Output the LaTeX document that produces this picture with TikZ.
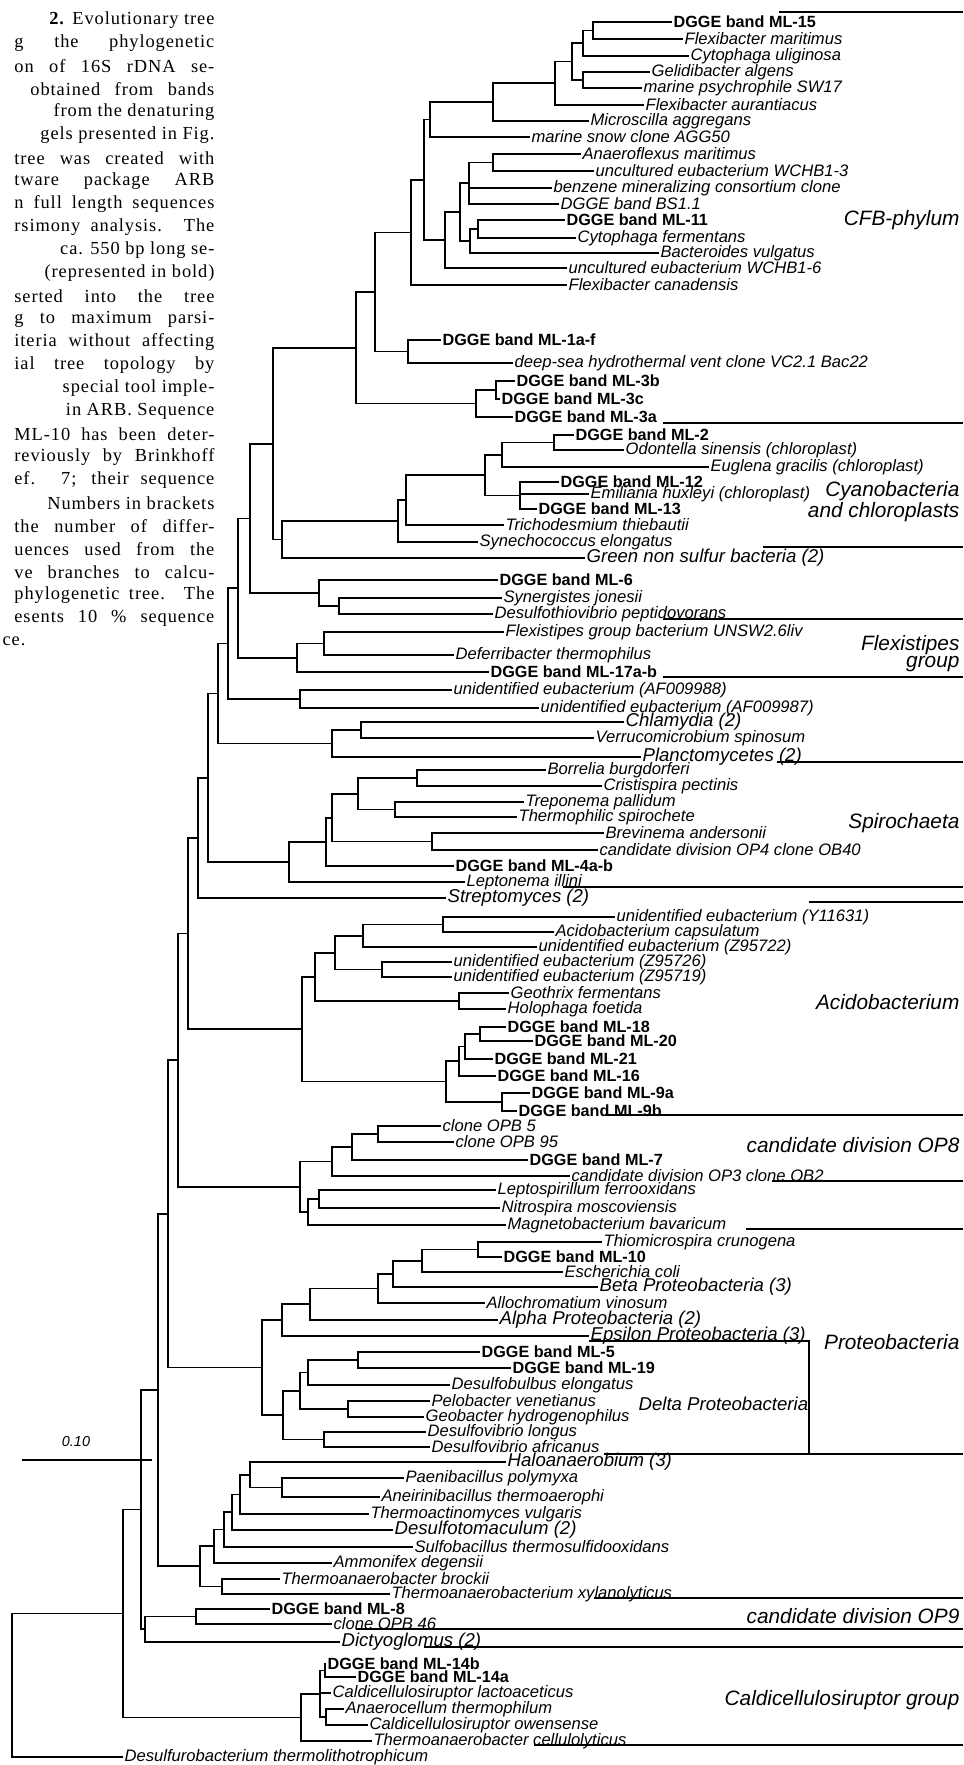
\documentclass[tikz,border=0pt]{standalone}
\usepackage{fontspec}
\setmainfont{Liberation Serif}
\newfontfamily\arialf{Liberation Sans}
\newfontfamily\captf[LetterSpace=5]{Liberation Serif}
\begin{document}
\begin{tikzpicture}[x=0.5pt,y=-0.5pt,line width=0.6pt,
  leaf/.style={anchor=west,inner xsep=0.5pt,inner ysep=0pt,font=\arialf\itshape\fontsize{8.3}{9}\selectfont},
  band/.style={leaf,font=\arialf\bfseries\fontsize{8.1}{9}\selectfont},
  coll/.style={leaf,font=\arialf\itshape\fontsize{9.3}{10}\selectfont},
  grp/.style={anchor=east,inner sep=0pt,font=\arialf\itshape\fontsize{10.4}{11}\selectfont},
  capt/.style={anchor=east,inner sep=0pt,font=\captf\fontsize{9.2}{10}\selectfont}]
\useasboundingbox (0,0) rectangle (963,1765);

% caption (cut at the left border)
\node[capt] (cap1) at (215,20) {\textbf{2.} Evolutionary tree};
\node[capt] (cap2) at (215,43) {\makebox[100pt][s]{g the phylogenetic}};
\node[capt] (cap3) at (215,66) {\makebox[100pt][s]{on of 16S rDNA se-}};
\node[capt] (cap4) at (215,89) {\makebox[92pt][s]{obtained from bands}};
\node[capt] (cap5) at (215,112) {from the denaturing};
\node[capt] (cap6) at (215,135) {gels presented in Fig.};
\node[capt] (cap7) at (215,158) {\makebox[100pt][s]{tree was created with}};
\node[capt] (cap8) at (215,181) {\makebox[100pt][s]{tware package ARB}};
\node[capt] (cap9) at (215,204) {\makebox[100pt][s]{n full length sequences}};
\node[capt] (cap10) at (215,227) {\makebox[100pt][s]{rsimony analysis. The}};
\node[capt] (cap11) at (215,250) {ca. 550 bp long se-};
\node[capt] (cap12) at (215,273) {(represented in bold)};
\node[capt] (cap13) at (215,296) {\makebox[100pt][s]{serted into the tree}};
\node[capt] (cap14) at (215,319) {\makebox[100pt][s]{g to maximum parsi-}};
\node[capt] (cap15) at (215,342) {\makebox[100pt][s]{iteria without affecting}};
\node[capt] (cap16) at (215,365) {\makebox[100pt][s]{ial tree topology by}};
\node[capt] (cap17) at (215,388) {special tool imple-};
\node[capt] (cap18) at (215,411) {in ARB. Sequence};
\node[capt] (cap19) at (215,434) {\makebox[100pt][s]{ML-10 has been deter-}};
\node[capt] (cap20) at (215,457) {\makebox[100pt][s]{reviously by Brinkhoff}};
\node[capt] (cap21) at (215,480) {\makebox[100pt][s]{ef. 7; their sequence}};
\node[capt] (cap22) at (215,503) {Numbers in brackets};
\node[capt] (cap23) at (215,526) {\makebox[100pt][s]{the number of differ-}};
\node[capt] (cap24) at (215,549) {\makebox[100pt][s]{uences used from the}};
\node[capt] (cap25) at (215,572) {\makebox[100pt][s]{ve branches to calcu-}};
\node[capt] (cap26) at (215,595) {\makebox[100pt][s]{phylogenetic tree. The}};
\node[capt] (cap27) at (215,618) {\makebox[100pt][s]{esents 10 \% sequence}};
\node[capt,anchor=west] (cap28) at (2,641) {ce.};

% CFB
\node[band] (l1) at (672,22) {DGGE band ML-15};
\node[leaf] (l2) at (683,39) {Flexibacter maritimus};
\node[leaf] (l3) at (689,56) {Cytophaga uliginosa};
\node[leaf] (l4) at (650,72) {Gelidibacter algens};
\node[leaf] (l5) at (642,88) {marine psychrophile SW17};
\node[leaf] (l6) at (644,105) {Flexibacter aurantiacus};
\node[leaf] (l7) at (589,121) {Microscilla aggregans};
\node[leaf] (l8) at (530,137) {marine snow clone AGG50};
\node[leaf] (l9) at (581,154) {Anaeroflexus maritimus};
\node[leaf] (l10) at (594,171) {uncultured eubacterium WCHB1-3};
\node[leaf] (l11) at (552,188) {benzene mineralizing consortium clone};
\node[leaf] (l12) at (559,204) {DGGE band BS1.1};
\node[band] (l13) at (565,220) {DGGE band ML-11};
\node[leaf] (l14) at (576,238) {Cytophaga fermentans};
\node[leaf] (l15) at (659,253) {Bacteroides vulgatus};
\node[leaf] (l16) at (567,268) {uncultured eubacterium WCHB1-6};
\node[leaf] (l17) at (567,285) {Flexibacter canadensis};
\node[band] (l18) at (441,340) {DGGE band ML-1a-f};
\node[leaf] (l19) at (513,363) {deep-sea hydrothermal vent clone VC2.1 Bac22};
\node[band] (l20) at (515,381) {DGGE band ML-3b};
\node[band] (l21) at (500,399) {DGGE band ML-3c};
\node[band] (l22) at (513,417) {DGGE band ML-3a};

\coordinate (a1) at (593,30.5);
\coordinate (a2) at (583,43);
\coordinate (a3) at (583,80);
\coordinate (a4) at (572,61.5);
\coordinate (a5) at (555,83);
\coordinate (a6) at (493,102);
\coordinate (a7) at (430,119.5);
\coordinate (b1) at (493,162.5);
\coordinate (b2) at (469,183);
\coordinate (b3) at (478,229);
\coordinate (b4) at (470,241);
\coordinate (b5) at (460,212);
\coordinate (b6) at (445,240);
\coordinate (c2) at (424,180);
\coordinate (c1) at (411,232.5);
\coordinate (m1) at (408,351.5);
\coordinate (g1) at (375,292);
\coordinate (m3) at (496,390);
\coordinate (m4) at (476,403.5);
\coordinate (f1) at (356,348);

\draw (a1) |- (l1) (a1) |- (l2) (a2) |- (a1) (a2) |- (l3)
      (a3) |- (l4) (a3) |- (l5) (a4) |- (a2) (a4) |- (a3)
      (a5) |- (a4) (a5) |- (l6) (a6) |- (a5) (a6) |- (l7)
      (a7) |- (a6) (a7) |- (l8);
\draw (b1) |- (l9) (b1) |- (l10) (b2) |- (b1) (b2) |- (l11) (b2) |- (l12)
      (b3) |- (l13) (b3) |- (l14) (b4) |- (b3) (b4) |- (l15)
      (b5) |- (b2) (b5) |- (b4) (b6) |- (b5) (b6) |- (l16)
      (c2) |- (a7) (c2) |- (b6) (c1) |- (c2) (c1) |- (l17);
\draw (m1) |- (l18) (m1) |- (l19) (g1) |- (c1) (g1) |- (m1)
      (m3) |- (l20) (m3) |- (l21) (m4) |- (m3) (m4) |- (l22)
      (f1) |- (g1) (f1) |- (m4);

% Cyanobacteria
\node[band] (l23) at (574,435) {DGGE band ML-2};
\node[leaf] (l24) at (624,450) {Odontella sinensis (chloroplast)};
\node[leaf] (l25) at (709,467) {Euglena gracilis (chloroplast)};
\node[band] (l26) at (559,482) {DGGE band ML-12};
\node[leaf] (l27) at (589,494) {Emiliania huxleyi (chloroplast)};
\node[band] (l28) at (537,509) {DGGE band ML-13};
\node[leaf] (l29) at (504,525) {Trichodesmium thiebautii};
\node[leaf] (l30) at (478,542) {Synechococcus elongatus};
\node[coll] (l31) at (585,558) {Green non sulfur bacteria (2)};
\coordinate (p1) at (554,442.5);
\coordinate (p2) at (502,455);
\coordinate (p4) at (520,495.5);
\coordinate (p3) at (485,475);
\coordinate (q1) at (406,500);
\coordinate (q2) at (398,521);
\coordinate (q3) at (282,539.5);
\draw (p1) |- (l23) (p1) |- (l24) (p2) |- (p1) (p2) |- (l25)
      (p4) |- (l26) (p4) |- (l27) (p4) |- (l28) (p3) |- (p2) (p3) |- (p4)
      (q1) |- (p3) (q1) |- (l29) (q2) |- (q1) (q2) |- (l30)
      (q3) |- (q2) (q3) |- (l31);

% ML-6, Flexistipes, AF
\node[band] (l32) at (498,580) {DGGE band ML-6};
\node[leaf] (l33) at (502,598) {Synergistes jonesii};
\node[leaf] (l34) at (493,614) {Desulfothiovibrio peptidovorans};
\node[leaf] (l35) at (504,632) {Flexistipes group bacterium UNSW2.6liv};
\node[leaf] (l36) at (454,655) {Deferribacter thermophilus};
\node[band] (l37) at (489,672) {DGGE band ML-17a-b};
\node[leaf] (l38) at (452,690) {unidentified eubacterium (AF009988)};
\node[leaf] (l39) at (539,708) {unidentified eubacterium (AF009987)};
\coordinate (s1) at (339,606);
\coordinate (s2) at (319,593);
\coordinate (t1) at (324,643.5);
\coordinate (t2) at (297,658);
\coordinate (u1) at (300,699);
\draw (s1) |- (l33) (s1) |- (l34) (s2) |- (l32) (s2) |- (s1)
      (t1) |- (l35) (t1) |- (l36) (t2) |- (t1) (t2) |- (l37)
      (u1) |- (l38) (u1) |- (l39);

% Chlamydia, Spirochaeta
\node[coll] (l40) at (624,722) {Chlamydia (2)};
\node[leaf] (l41) at (594,738) {Verrucomicrobium spinosum};
\node[coll] (l42) at (641,757) {Planctomycetes (2)};
\node[leaf] (l43) at (546,770) {Borrelia burgdorferi};
\node[leaf] (l44) at (602,786) {Cristispira pectinis};
\node[leaf] (l45) at (524,802) {Treponema pallidum};
\node[leaf] (l46) at (517,817) {Thermophilic spirochete};
\node[leaf] (l47) at (604,833) {Brevinema andersonii};
\node[leaf] (l48) at (598,850) {candidate division OP4 clone OB40};
\node[band] (l49) at (454,866) {DGGE band ML-4a-b};
\node[leaf] (l50) at (465,882) {Leptonema illini};
\node[coll] (l51) at (446,898) {Streptomyces (2)};
\coordinate (v1) at (361,730);
\coordinate (v2) at (332,743.5);
\coordinate (w1) at (417,778);
\coordinate (w2) at (395,809.5);
\coordinate (w3) at (358,794);
\coordinate (w5) at (432,841.5);
\coordinate (w4) at (332,818);
\coordinate (w6) at (326,842);
\coordinate (w7) at (289,862);
\draw (v1) |- (l40) (v1) |- (l41) (v2) |- (v1) (v2) |- (l42)
      (w1) |- (l43) (w1) |- (l44) (w2) |- (l45) (w2) |- (l46)
      (w3) |- (w1) (w3) |- (w2) (w5) |- (l47) (w5) |- (l48)
      (w4) |- (w3) (w4) |- (w5) (w6) |- (w4) (w6) |- (l49)
      (w7) |- (w6) (w7) |- (l50);

% Acidobacterium
\node[leaf] (l52) at (615,917) {unidentified eubacterium (Y11631)};
\node[leaf] (l53) at (554,932) {Acidobacterium capsulatum};
\node[leaf] (l54) at (537,947) {unidentified eubacterium (Z95722)};
\node[leaf] (l55) at (452,962) {unidentified eubacterium (Z95726)};
\node[leaf] (l56) at (452,977) {unidentified eubacterium (Z95719)};
\node[leaf] (l57) at (509,993) {Geothrix fermentans};
\node[leaf] (l58) at (506,1009) {Holophaga foetida};
\node[band] (l59) at (506,1027) {DGGE band ML-18};
\node[band] (l60) at (533,1041) {DGGE band ML-20};
\node[band] (l61) at (493,1059) {DGGE band ML-21};
\node[band] (l62) at (496,1076) {DGGE band ML-16};
\node[band] (l63) at (530,1093) {DGGE band ML-9a};
\node[band] (l64) at (517,1111) {DGGE band ML-9b};
\coordinate (x1) at (443,924.5);
\coordinate (x2) at (363,936);
\coordinate (x3) at (382,969.5);
\coordinate (x4) at (335,953);
\coordinate (x6) at (459,1001);
\coordinate (x5) at (315,977);
\coordinate (y1) at (480,1034);
\coordinate (y2) at (465,1046.5);
\coordinate (y3) at (459,1061);
\coordinate (y4) at (502,1102);
\coordinate (y5) at (446,1081.5);
\coordinate (x7) at (302,1029);
\draw (x1) |- (l52) (x1) |- (l53) (x2) |- (x1) (x2) |- (l54)
      (x3) |- (l55) (x3) |- (l56) (x4) |- (x2) (x4) |- (x3)
      (x6) |- (l57) (x6) |- (l58) (x5) |- (x4) (x5) |- (x6)
      (y1) |- (l59) (y1) |- (l60) (y2) |- (y1) (y2) |- (l61)
      (y3) |- (y2) (y3) |- (l62) (y4) |- (l63) (y4) |- (l64)
      (y5) |- (y3) (y5) |- (y4) (x7) |- (x5) (x7) |- (y5);

% OP8, Nitrospira
\node[leaf] (l65) at (441,1126) {clone OPB 5};
\node[leaf] (l66) at (454,1142) {clone OPB 95};
\node[band] (l67) at (528,1160) {DGGE band ML-7};
\node[leaf] (l68) at (570,1176) {candidate division OP3 clone OB2};
\node[leaf] (l69) at (496,1190) {Leptospirillum ferrooxidans};
\node[leaf] (l70) at (500,1208) {Nitrospira moscoviensis};
\node[leaf] (l71) at (506,1225) {Magnetobacterium bavaricum};
\coordinate (z1) at (378,1134);
\coordinate (z2) at (352,1147);
\coordinate (z3) at (332,1161.5);
\coordinate (z4) at (319,1199);
\coordinate (z5) at (308,1212);
\coordinate (z6) at (300,1187);
\draw (z1) |- (l65) (z1) |- (l66) (z2) |- (z1) (z2) |- (l67)
      (z3) |- (z2) (z3) |- (l68) (z4) |- (l69) (z4) |- (l70)
      (z5) |- (z4) (z5) |- (l71) (z6) |- (z3) (z6) |- (z5);

% Proteobacteria
\node[leaf] (l72) at (602,1242) {Thiomicrospira crunogena};
\node[band] (l73) at (502,1257) {DGGE band ML-10};
\node[leaf] (l74) at (563,1272) {Escherichia coli};
\node[coll] (l75) at (598,1287) {Beta Proteobacteria (3)};
\node[leaf] (l76) at (485,1303) {Allochromatium vinosum};
\node[coll] (l77) at (498,1320) {Alpha Proteobacteria (2)};
\node[coll] (l78) at (589,1336) {Epsilon Proteobacteria (3)};
\node[band] (l79) at (480,1352) {DGGE band ML-5};
\node[band] (l80) at (511,1368) {DGGE band ML-19};
\node[leaf] (l81) at (450,1385) {Desulfobulbus elongatus};
\node[leaf] (l82) at (430,1401) {Pelobacter venetianus};
\node[leaf] (l83) at (424,1417) {Geobacter hydrogenophilus};
\node[leaf] (l84) at (426,1432) {Desulfovibrio longus};
\node[leaf] (l85) at (430,1447) {Desulfovibrio africanus};
\coordinate (r1) at (478,1249.5);
\coordinate (r2) at (422,1261);
\coordinate (r3) at (393,1274);
\coordinate (r4) at (378,1288.5);
\coordinate (r5) at (310,1304);
\coordinate (r6) at (282,1320);
\coordinate (d1) at (358,1360);
\coordinate (d2) at (308,1372.5);
\coordinate (d3) at (348,1409);
\coordinate (d4) at (300,1391);
\coordinate (d5) at (324,1439.5);
\coordinate (d6) at (283,1415);
\draw (r1) |- (l72) (r1) |- (l73) (r2) |- (r1) (r2) |- (l74)
      (r3) |- (r2) (r3) |- (l75) (r4) |- (r3) (r4) |- (l76)
      (r5) |- (r4) (r5) |- (l77) (r6) |- (r5) (r6) |- (l78);
\draw (d1) |- (l79) (d1) |- (l80) (d2) |- (d1) (d2) |- (l81)
      (d3) |- (l82) (d3) |- (l83) (d4) |- (d2) (d4) |- (d3)
      (d5) |- (l84) (d5) |- (l85) (d6) |- (d4) (d6) |- (d5);

% Firmicutes and the rest
\node[coll] (l86) at (506,1462) {Haloanaerobium (3)};
\node[leaf] (l87) at (404,1478) {Paenibacillus polymyxa};
\node[leaf] (l88) at (380,1497) {Aneirinibacillus thermoaerophi};
\node[leaf] (l89) at (369,1514) {Thermoactinomyces vulgaris};
\node[coll] (l90) at (393,1530) {Desulfotomaculum (2)};
\node[leaf] (l91) at (413,1547) {Sulfobacillus thermosulfidooxidans};
\node[leaf] (l92) at (332,1563) {Ammonifex degensii};
\node[leaf] (l93) at (280,1579) {Thermoanaerobacter brockii};
\node[leaf] (l94) at (390,1594) {Thermoanaerobacterium xylanolyticus};
\node[band] (l95) at (270,1609) {DGGE band ML-8};
\node[leaf] (l96) at (332,1624) {clone OPB 46};
\node[coll] (l97) at (340,1642) {Dictyoglomus (2)};
\node[band] (l98) at (326,1664) {DGGE band ML-14b};
\node[band] (l99) at (356,1677) {DGGE band ML-14a};
\node[leaf] (l100) at (331,1693) {Caldicellulosiruptor lactoaceticus};
\node[leaf] (l101) at (344,1709) {Anaerocellum thermophilum};
\node[leaf] (l102) at (368,1725) {Caldicellulosiruptor owensense};
\node[leaf] (l103) at (372,1741) {Thermoanaerobacter cellulolyticus};
\node[leaf] (l104) at (123,1757) {Desulfurobacterium thermolithotrophicum};
\coordinate (h1) at (282,1487.5);
\coordinate (e1) at (250,1475);
\coordinate (e2) at (240,1494.5);
\coordinate (e3) at (232,1512);
\coordinate (e4) at (224,1529.5);
\coordinate (e5) at (214,1546);
\coordinate (e7) at (222,1586.5);
\coordinate (e6) at (200,1566);
\coordinate (o1) at (196,1616.5);
\coordinate (o2) at (145,1629);
\coordinate (ca1) at (325,1670.5);
\coordinate (ca2) at (326,1717);
\coordinate (ca3) at (320,1694);
\coordinate (ca4) at (301,1717.5);
\draw (h1) |- (l87) (h1) |- (l88) (e1) |- (l86) (e1) |- (h1)
      (e2) |- (e1) (e2) |- (l89) (e3) |- (e2) (e3) |- (l90)
      (e4) |- (e3) (e4) |- (l91) (e5) |- (e4) (e5) |- (l92)
      (e7) |- (l93) (e7) |- (l94) (e6) |- (e5) (e6) |- (e7);
\draw (o1) |- (l95) (o1) |- (l96) (o2) |- (o1) (o2) |- (l97)
      (ca1) |- (l98) (ca1) |- (l99) (ca2) |- (l101) (ca2) |- (l102)
      (ca3) |- (ca1) (ca3) |- (l100) (ca3) |- (ca2)
      (ca4) |- (ca3) (ca4) |- (l103);

% backbone
\coordinate (k1) at (273,444);
\coordinate (k2) at (250,518.5);
\coordinate (k3) at (238,588);
\coordinate (k4) at (228,643.5);
\coordinate (k5) at (218,693.5);
\coordinate (k6) at (208,778);
\coordinate (k7) at (198,838);
\coordinate (k8) at (188,933.5);
\coordinate (k9) at (178,1060);
\coordinate (pd) at (262,1367.5);
\coordinate (k10) at (168,1214);
\coordinate (k11) at (158,1390);
\coordinate (k12) at (141,1509.5);
\coordinate (rt1) at (123,1613.5);
\coordinate (rt0) at (12,1685);
\draw (k1) |- (f1) (k1) |- (q3) (k2) |- (k1) (k2) |- (s2)
      (k3) |- (k2) (k3) |- (t2) (k4) |- (k3) (k4) |- (u1)
      (k5) |- (k4) (k5) |- (v2) (k6) |- (k5) (k6) |- (w7)
      (k7) |- (k6) (k7) |- (l51) (k8) |- (k7) (k8) |- (x7)
      (k9) |- (k8) (k9) |- (z6) (pd) |- (r6) (pd) |- (d6)
      (k10) |- (k9) (k10) |- (pd) (k11) |- (k10) (k11) |- (e6)
      (k12) |- (k11) (k12) |- (o2) (rt1) |- (k12) (rt1) |- (ca4)
      (rt0) |- (rt1) (rt0) |- (l104);

% group brackets
\draw (779,12) -- (963,12) (663,423) -- (963,423) (763,547) -- (963,547)
      (663,619) -- (963,619) (663,677) -- (963,677) (777,762) -- (963,762)
      (563,887) -- (963,887) (809,902) -- (963,902) (605,1115) -- (963,1115)
      (772,1181) -- (963,1181) (746,1229) -- (963,1229)
      (589,1341) -- (809,1341) -- (809,1454) (604,1454) -- (963,1454)
      (594,1598) -- (963,1598) (356,1629) -- (963,1629) (424,1647) -- (963,1647)
      (534,1745) -- (963,1745);
\node[grp] (gcfb) at (960,220) {CFB-phylum};
\node[grp] (gcya1) at (960,491) {Cyanobacteria};
\node[grp] (gcya2) at (960,512) {and chloroplasts};
\node[grp] (gfle1) at (960,645) {Flexistipes};
\node[grp] (gfle2) at (960,664) {group};
\node[grp] (gspi) at (960,823) {Spirochaeta};
\node[grp] (gaci) at (960,1002) {Acidobacterium};
\node[grp] (gop8) at (960,1145) {candidate division OP8};
\node[grp] (gpro) at (960,1342) {Proteobacteria};
\node[coll] (gdel) at (637,1404) {Delta Proteobacteria};
\node[grp] (gop9) at (960,1616) {candidate division OP9};
\node[grp] (gcal) at (960,1700) {Caldicellulosiruptor group};

% scale bar
\node[leaf,anchor=center,font=\arialf\itshape\fontsize{7.2}{8}\selectfont] (sbl) at (76,1442) {0.10};
\draw (22,1460) -- (152,1460);
\end{tikzpicture}
\end{document}
